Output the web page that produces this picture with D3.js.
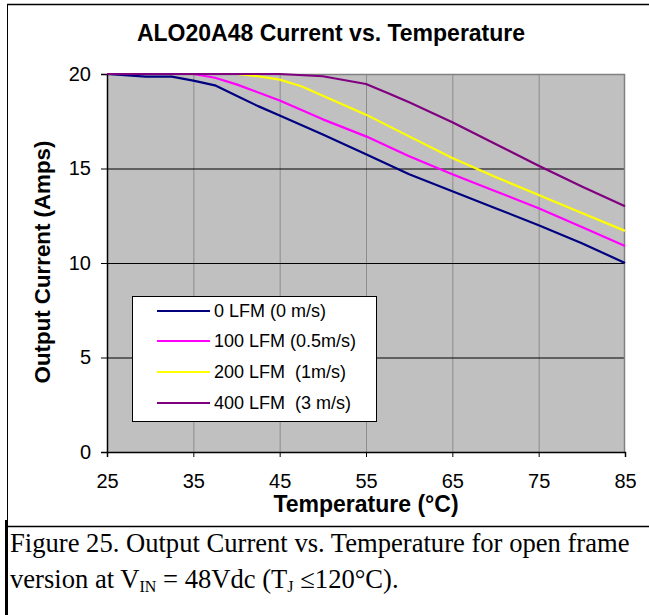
<!DOCTYPE html>
<html><head><meta charset="utf-8">
<script src="https://cdn.jsdelivr.net/npm/d3@7"></script>
<style>body{margin:0;background:#fff}svg{display:block}</style>
</head><body>
<svg id="c" width="649" height="615"></svg>
<script>
const title = "ALO20A48 Current vs. Temperature";
const xTicks = [25, 35, 45, 55, 65, 75, 85];
const yTicks = [0, 5, 10, 15, 20];
const seriesNames = ["0 LFM (0 m/s)", "100 LFM (0.5m/s)", "200 LFM  (1m/s)", "400 LFM  (3 m/s)"];
const seriesColors = ["#000080", "#FF00FF", "#FFFF00", "#800080"];
const lfm0 = [[25,20],[29.5,19.86],[32.5,19.86],[35,19.65],[37.5,19.4],[40,18.85],[42.5,18.3],[45,17.8],[50,16.8],[55,15.75],[60,14.7],[65,13.8],[70,12.9],[75,12.0],[80,11.05],[85,10.0]];
const lfm100 = [[25,20],[35,20],[37.5,19.8],[40,19.45],[45,18.6],[50,17.6],[55,16.7],[60,15.65],[65,14.7],[70,13.8],[75,12.9],[80,11.9],[85,10.9]];
const lfm200 = [[25,20],[40,20],[42.5,19.88],[45,19.7],[47.5,19.35],[50,18.85],[55,17.85],[60,16.7],[65,15.55],[70,14.55],[75,13.6],[80,12.65],[85,11.7]];
const lfm400 = [[25,20],[45,20],[50,19.88],[55,19.47],[57.5,19.0],[60,18.5],[65,17.45],[70,16.3],[75,15.15],[80,14.05],[85,13.0]];
const series = [lfm0, lfm100, lfm200, lfm400];

const svg = d3.select("#c");
const L = 107, R = 625, T = 74, B = 452;
const x = d3.scaleLinear().domain([25, 85]).range([L, R]);
const y = d3.scaleLinear().domain([0, 20]).range([B, T]);
const sans = "'Liberation Sans', Arial, sans-serif";
const serif = "'Liberation Serif', 'Times New Roman', serif";

// outer frame
svg.append("line").attr("x1",7).attr("x2",649).attr("y1",4.5).attr("y2",4.5).attr("stroke","#000").attr("stroke-width",1.5);
svg.append("line").attr("x1",7.5).attr("x2",7.5).attr("y1",4).attr("y2",526).attr("stroke","#000").attr("stroke-width",1);
svg.append("line").attr("x1",7).attr("x2",649).attr("y1",526.5).attr("y2",526.5).attr("stroke","#000").attr("stroke-width",1.5);
svg.append("line").attr("x1",6.5).attr("x2",6.5).attr("y1",520).attr("y2",615).attr("stroke","#000").attr("stroke-width",3);

// plot area
svg.append("rect").attr("x",L).attr("y",T).attr("width",R-L).attr("height",B-T).attr("fill","#C0C0C0");
// vertical grid
svg.append("g").selectAll("line").data(xTicks.slice(1,-1)).join("line")
  .attr("x1",d=>x(d)+0.5).attr("x2",d=>x(d)+0.5).attr("y1",T).attr("y2",B)
  .attr("stroke","#8c8c8c").attr("stroke-width",1);
// horizontal grid
svg.append("g").selectAll("line").data(yTicks.slice(1,-1)).join("line")
  .attr("x1",L).attr("x2",R).attr("y1",d=>y(d)+0.5).attr("y2",d=>y(d)+0.5)
  .attr("stroke","#000").attr("stroke-width",1);
// plot border top/right
svg.append("path").attr("d",`M${L},${T+0.5}H${R-0.5}V${B}`).attr("fill","none").attr("stroke","#808080").attr("stroke-width",1.5);

// axes
const yAxis = d3.axisLeft(y).tickValues(yTicks).tickSize(6).tickPadding(10).tickFormat(d3.format("d"));
const gy = svg.append("g").attr("transform",`translate(${L},0)`).call(yAxis);
gy.select(".domain").attr("stroke","#000").attr("stroke-width",1.5);
gy.selectAll("text").attr("font-family",sans).attr("font-size",20).attr("fill","#000");
const xAxis = d3.axisBottom(x).tickValues(xTicks).tickSize(5).tickPadding(16.5).tickFormat(d3.format("d"));
const gx = svg.append("g").attr("transform",`translate(0,${B})`).call(xAxis);
gx.select(".domain").attr("stroke","#000").attr("stroke-width",1.5);
gx.selectAll("text").attr("font-family",sans).attr("font-size",20).attr("fill","#000");

// lines
const line = d3.line().x(d=>x(d[0])).y(d=>y(d[1]));
svg.append("g").selectAll("path").data(series).join("path")
  .attr("d",line).attr("fill","none").attr("stroke",(d,i)=>seriesColors[i]).attr("stroke-width",2.2).attr("stroke-linejoin","round");

// titles
svg.append("text").attr("x",331).attr("y",41).attr("text-anchor","middle")
  .attr("font-family",sans).attr("font-weight","bold").attr("font-size",23).text(title);
svg.append("text").attr("x",366).attr("y",512).attr("text-anchor","middle")
  .attr("font-family",sans).attr("font-weight","bold").attr("font-size",23).text("Temperature (°C)");
svg.append("text").attr("transform","translate(50,262) rotate(-90)").attr("text-anchor","middle")
  .attr("font-family",sans).attr("font-weight","bold").attr("font-size",22.3).text("Output Current (Amps)");

// legend
const lg = svg.append("g");
lg.append("rect").attr("x",132.5).attr("y",296.5).attr("width",244).attr("height",125).attr("fill","#fff").attr("stroke","#000").attr("stroke-width",1);
const rowY = [311, 341, 372, 403];
seriesNames.forEach((n,i)=>{
  lg.append("line").attr("x1",157).attr("x2",210).attr("y1",rowY[i]).attr("y2",rowY[i]).attr("stroke",seriesColors[i]).attr("stroke-width",2);
  lg.append("text").attr("x",214).attr("y",rowY[i]+6).attr("font-family",sans).attr("font-size",18).attr("xml:space","preserve").style("white-space","pre").text(n);
});

// caption
const cap = svg.append("g").attr("font-family",serif).attr("font-size",26.6).attr("fill","#000");
cap.append("text").attr("x",10).attr("y",552).text("Figure 25. Output Current vs. Temperature for open frame");
const t2 = cap.append("text").attr("x",10).attr("y",588);
t2.append("tspan").text("version at V");
t2.append("tspan").attr("font-size",16).attr("dy",4).text("IN");
t2.append("tspan").attr("dy",-4).text(" = 48Vdc (T");
t2.append("tspan").attr("font-size",16).attr("dy",4).text("J");
t2.append("tspan").attr("dy",-4).text(" ≤120°C).");
</script>
</body></html>
